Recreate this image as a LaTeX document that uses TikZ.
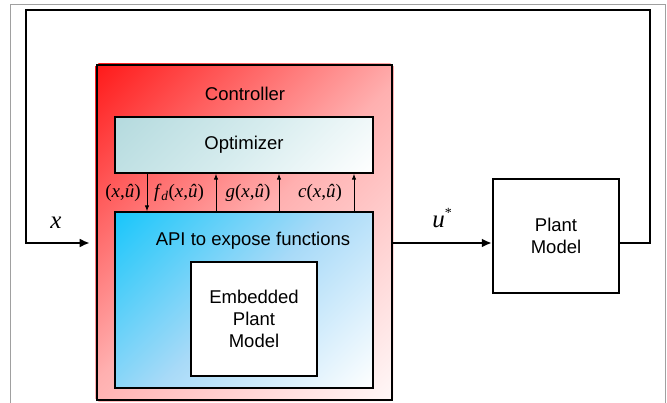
\documentclass[tikz,border=0pt]{standalone}
\usepackage{fontspec}
\setmainfont{Liberation Sans}
\newfontfamily\tms{Liberation Serif}
\usetikzlibrary{arrows.meta,calc,backgrounds}

\definecolor{ctrlred}{HTML}{FF1A1A}
\definecolor{ctrlmid}{HTML}{FFB0B0}
\definecolor{ctrlpale}{HTML}{FFF8F8}
\definecolor{optteal}{HTML}{B4DADE}
\definecolor{optmid}{HTML}{D6ECEE}
\definecolor{apicyan}{HTML}{18C6FA}
\definecolor{apimid}{HTML}{A8DAF8}
\definecolor{framegray}{HTML}{A0A0A0}

% Diagonal 45-degree gradient inside a node: colour #4 at the top left
% corner, #5 halfway, #6 at the bottom right; #2 x #3 is the node size.
\newcommand\diagfill[6]{%
  \begin{scope}
    \clip (#1.north west) rectangle (#1.south east);
    \begin{scope}[transform canvas={rotate around={45:(#1.center)}}]
      \shade[top color=#4, bottom color=#6, middle color=#5]
        ($(#1.center)+({-(#2+#3)/2.8284},{-(#2+#3)/2.8284})$) rectangle
        ($(#1.center)+({(#2+#3)/2.8284},{(#2+#3)/2.8284})$);
    \end{scope}
  \end{scope}}

\begin{document}
\begin{tikzpicture}[x=1pt,y=-1pt,
  box/.style={draw=black, line width=1.3pt, rectangle, inner sep=0pt},
  lbl/.style={font=\fontsize{18.5}{22}\selectfont, align=center},
  mth/.style={font=\tms\fontsize{19}{22}\selectfont, inner sep=0pt},
  sig/.style={font=\tms\fontsize{25}{28}\selectfont\itshape, inner sep=0pt},
  wire/.style={line width=2.6pt, -{Latex[length=10pt,width=9pt]}},
  tap/.style={line width=0.9pt, -{Latex[length=6pt,width=4.5pt]}},
]
\useasboundingbox (0,0) rectangle (667,403);

% page frame
\draw[framegray, line width=0.8pt] (10,403) -- (10,4) -- (665,4) -- (665,403);

% controller with its inner blocks
\node[box, line width=2.6pt, minimum width=295pt, minimum height=335pt]
      (ctrl) at (244.5,232.5) {};
\node[lbl] (ctrltitle) at (245,94) {Controller};

\node[box, minimum width=258pt, minimum height=56pt, lbl]
      (opt) at (244,145) {Optimizer};

\node[box, minimum width=258pt, minimum height=176pt]
      (api) at (244,300) {};
\node[lbl] (apititle) at (253,241) {API to expose functions};

\node[box, fill=white, minimum width=126pt, minimum height=114pt, lbl]
      (emb) at (254,319) {Embedded\\Plant\\Model};

\begin{scope}[on background layer]
  \diagfill{ctrl}{295}{335}{ctrlred}{ctrlmid}{ctrlpale}
  \diagfill{opt}{258}{56}{optteal}{optmid}{white}
  \diagfill{api}{258}{176}{apicyan}{apimid}{white}
\end{scope}

% plant
\node[box, line width=2.4pt, fill=white, minimum width=126pt, minimum height=114pt, lbl]
      (plant) at (556,236) {Plant\\Model};

% signal lines
\coordinate (bus) at (0,243);
\coordinate (tr) at (650,10);
\coordinate (tl) at (26,10);
\draw[wire, line join=miter, shorten >=6pt] (plant.east |- bus) -| (tr) -- (tl) |- (ctrl.west |- bus);
\draw[wire] (ctrl.east |- bus) -- (plant.west |- bus);

\node[sig] (xlab) at (56,223) {x};
\node[sig] (ulab) at (442,218) {u\raisebox{10pt}{\fontsize{14}{14}\selectfont\upshape *}};

% optimizer <-> API exchanges
\coordinate (t1) at (147,0);
\coordinate (t2) at (216,0);
\coordinate (t3) at (279,0);
\coordinate (t4) at (354,0);
\draw[tap] (opt.south -| t1) -- (api.north -| t1);
\draw[tap] (api.north -| t2) -- (opt.south -| t2);
\draw[tap] (api.north -| t3) -- (opt.south -| t3);
\draw[tap] (api.north -| t4) -- (opt.south -| t4);

\node[mth] (l1) at (123,193) {(\textit{x},\textit{\^{u}})};
\node[mth] (l2) at (179,193) {\textit{f}\textsubscript{\textit{d}}(\textit{x},\textit{\^{u}})};
\node[mth] (l3) at (248,193) {\textit{g}(\textit{x},\textit{\^{u}})};
\node[mth] (l4) at (320,193) {\textit{c}(\textit{x},\textit{\^{u}})};
\end{tikzpicture}
\end{document}
